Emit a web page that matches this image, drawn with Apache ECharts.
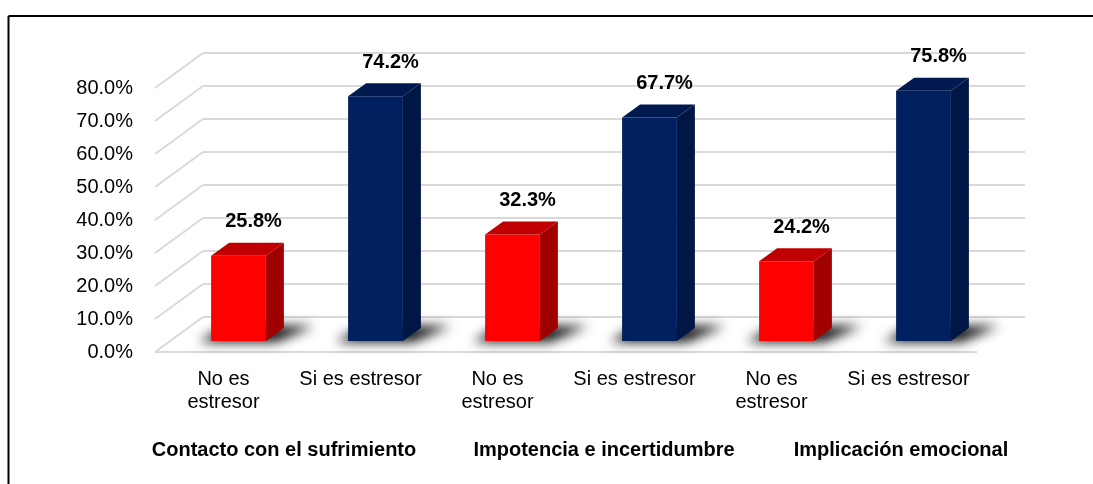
<!DOCTYPE html>
<html>
<head>
<meta charset="utf-8">
<script src="https://cdn.jsdelivr.net/npm/echarts@6/dist/echarts.min.js"></script>
<style>
html,body{margin:0;padding:0;background:#fff;}
#chart{width:1093px;height:484px;}
</style>
</head>
<body>
<div id="chart"></div>
<script>
// ---- data ----
const categories = ['No es\nestresor', 'Si es estresor', 'No es\nestresor', 'Si es estresor', 'No es\nestresor', 'Si es estresor'];
const groups = ['Contacto con el sufrimiento', 'Impotencia e incertidumbre', 'Implicación emocional'];
const noEstresor = [25.8, 32.3, 24.2];   // categories 0, 2, 4
const siEstresor = [74.2, 67.7, 75.8];   // categories 1, 3, 5
const yTicks = [0, 10, 20, 30, 40, 50, 60, 70, 80];

// ---- style ----
const FONT = 'Liberation Sans';
const DEPTH_X = 48, DEPTH_Y = -35;       // wall depth (px)
const BAR_FX = 15, BAR_FY = -11;         // bar front face offset into depth
const BAR_DX = 18, BAR_DY = -13;         // bar depth
const BAR_W = 0.40;                      // fraction of band

const chart = echarts.init(document.getElementById('chart'), null, {renderer: 'canvas'});

function wallRender(params, api) {
  const v = api.value(1);
  const bw = api.size([1, 0])[0];
  const c0 = api.coord([0, v]);
  const cN = api.coord([categories.length - 1, v]);
  const L = c0[0] - bw / 2, R = cN[0] + bw / 2, y = c0[1];
  const ls = {stroke: '#D9D9D9', lineWidth: 2};
  const ch = [
    {type: 'line', shape: {x1: L, y1: y, x2: L + DEPTH_X, y2: y + DEPTH_Y}, style: ls},
    {type: 'line', shape: {x1: L + DEPTH_X, y1: y + DEPTH_Y, x2: R + DEPTH_X, y2: y + DEPTH_Y}, style: ls}
  ];
  if (v === 0) ch.push({type: 'line', shape: {x1: L, y1: y, x2: R, y2: y}, style: ls});
  return {type: 'group', children: ch};
}

function makeBarRender(front, side, top) {
  return function (params, api) {
    const idx = api.value(0), v = api.value(1);
    const bw = api.size([1, 0])[0];
    const c = api.coord([idx, v]);
    const c0 = api.coord([idx, 0]);
    const w = bw * BAR_W;
    const x1 = c[0] - w / 2 + BAR_FX, x2 = x1 + w;
    const t = c[1] + BAR_FY, b = c0[1] + BAR_FY;
    const OFF = 3000;
    const sh = [[x1 - 12, b + 1], [x2 + 10, b + 1], [x2 + BAR_DX + 30, b + BAR_DY - 2], [x1 + BAR_DX - 4, b + BAR_DY - 2]]
      .map(p => [p[0] - OFF, p[1]]);
    return {
      type: 'group',
      children: [
        {type: 'polygon', shape: {points: sh},
          style: {fill: '#000', shadowBlur: 12, shadowColor: 'rgba(0,0,0,0.95)', shadowOffsetX: OFF, shadowOffsetY: 0}},
        {type: 'rect', shape: {x: x1, y: t, width: w, height: b - t}, style: {fill: front}},
        {type: 'polygon', shape: {points: [[x2, t], [x2 + BAR_DX, t + BAR_DY], [x2 + BAR_DX, b + BAR_DY], [x2, b]]}, style: {fill: side}},
        {type: 'polygon', shape: {points: [[x1, t], [x1 + BAR_DX, t + BAR_DY], [x2 + BAR_DX, t + BAR_DY], [x2, t]]}, style: {fill: top}},
        {type: 'text', x: (x1 + x2) / 2 + 15, y: t + BAR_DY - 21,
          style: {text: v.toFixed(1) + '%', fontFamily: FONT, fontSize: 20, fontWeight: 'bold', fill: '#000', align: 'center', verticalAlign: 'middle'}}
      ]
    };
  };
}

const noData = noEstresor.map((v, i) => [i * 2, v]);
const siData = siEstresor.map((v, i) => [i * 2 + 1, v]);

const groupCenters = [284, 604, 901];

chart.setOption({
  animation: false,
  backgroundColor: '#fff',
  grid: {left: 155, right: 116, top: 88, bottom: 132, containLabel: false, outerBoundsMode: 'none'},
  xAxis: {
    type: 'category', data: categories,
    axisLine: {show: false}, axisTick: {show: false}, splitLine: {show: false},
    axisLabel: {interval: 0, margin: 16, fontFamily: FONT, fontSize: 20, lineHeight: 23, color: '#000'}
  },
  yAxis: {
    type: 'value', min: 0, max: 80, interval: 10,
    axisLine: {show: false}, axisTick: {show: false}, splitLine: {show: false},
    axisLabel: {margin: 22, fontFamily: FONT, fontSize: 20, color: '#000', formatter: v => v.toFixed(1) + '%'}
  },
  series: [
    {type: 'custom', name: 'walls', data: yTicks.map(v => [0, v]), renderItem: wallRender, clip: false, silent: true, z: 1},
    {type: 'custom', name: 'No es estresor', data: noData, renderItem: makeBarRender('#FF0000', '#A00000', '#C00000'), clip: false, z: 3},
    {type: 'custom', name: 'Si es estresor', data: siData, renderItem: makeBarRender('#002060', '#001645', '#001A4F'), clip: false, z: 3}
  ],
  graphic: [
    {type: 'line', shape: {x1: 8.5, y1: 16, x2: 8.5, y2: 484}, style: {stroke: '#000', lineWidth: 2}},
    {type: 'line', shape: {x1: 8.5, y1: 16, x2: 1093, y2: 16}, style: {stroke: '#000', lineWidth: 2}}
  ].concat(groups.map((g, i) => ({
    type: 'text', x: groupCenters[i], y: 450,
    style: {text: g, fontFamily: FONT, fontSize: 20, fontWeight: 'bold', fill: '#000', align: 'center', verticalAlign: 'middle'}
  })))
});
</script>
</body>
</html>
